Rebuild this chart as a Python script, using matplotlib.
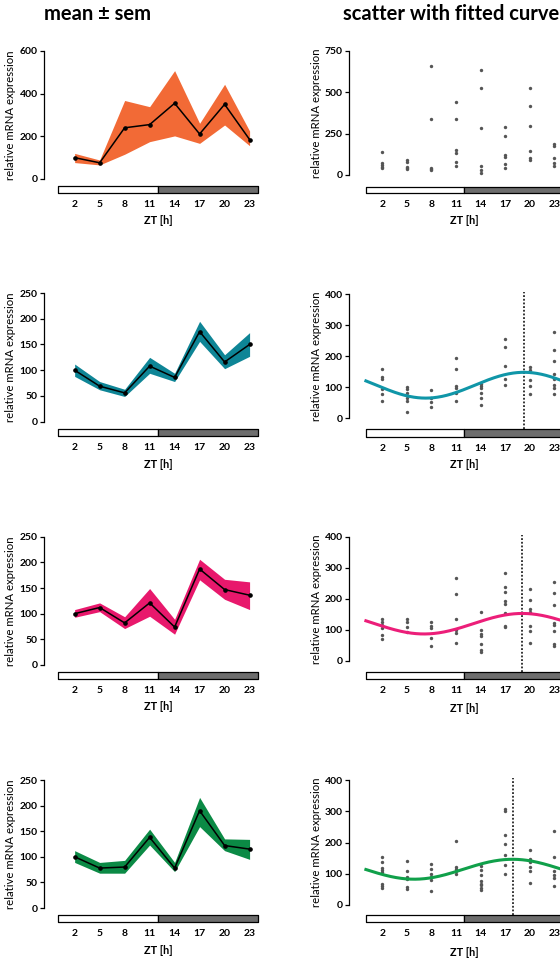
import numpy as np
import matplotlib
matplotlib.use("Agg")
import matplotlib.pyplot as plt

plt.rcParams['font.family'] = ['Lato', 'DejaVu Sans']

zt = [2, 5, 8, 11, 14, 17, 20, 23]
light_dark = [(0, 12), (12, 12)]

# mean +- sem panels (left column)
mean_1 = [100, 76, 240, 255, 355, 211, 350, 185]
upper_1 = [120, 89, 368, 339, 508, 261, 444, 225]
lower_1 = [77, 66, 116, 175, 202, 167, 253, 156]

mean_2 = [100, 69, 56, 108, 86, 175, 116, 150]
upper_2 = [112, 78, 63, 125, 94, 195, 130, 173]
lower_2 = [88, 62, 49, 94, 78, 156, 103, 127]

mean_3 = [100, 112, 82, 121, 74, 187, 147, 136]
upper_3 = [108, 121, 94, 149, 89, 206, 167, 162]
lower_3 = [93, 104, 71, 95, 60, 166, 128, 108]

mean_4 = [100, 78, 80, 138, 78, 190, 122, 115]
upper_4 = [112, 89, 93, 154, 89, 216, 135, 134]
lower_4 = [89, 68, 68, 123, 71, 159, 112, 95]

# individual samples (right column)
points_1 = [[137, 70, 60, 48, 42], [90, 78, 50, 42, 35], [660, 340, 45, 35, 30],
            [439, 336, 151, 131, 76, 52], [632, 523, 284, 56, 28, 14],
            [290, 235, 121, 107, 66, 40], [527, 416, 298, 147, 100, 90],
            [187, 175, 105, 70, 55]]
points_2 = [[159, 134, 127, 94, 77, 56], [102, 94, 80, 64, 57, 21], [91, 64, 54, 35],
            [195, 158, 105, 99, 80, 57], [110, 103, 99, 80, 66, 42],
            [254, 228, 168, 125, 107], [164, 155, 123, 104, 77],
            [277, 220, 186, 142, 125, 107, 97, 78]]
points_3 = [[134, 127, 116, 105, 84, 70], [134, 127, 110, 92], [127, 113, 105, 73, 48],
            [266, 215, 135, 100, 89, 59], [157, 100, 87, 80, 54, 36, 30],
            [284, 237, 223, 194, 185, 153, 113, 108],
            [233, 196, 168, 157, 114, 97, 58],
            [253, 220, 180, 121, 116, 96, 54, 47]]
points_4 = [[153, 137, 118, 113, 105, 68, 60, 55], [139, 107, 89, 82, 57, 49],
            [132, 116, 100, 89, 78, 43], [204, 120, 114, 107, 100],
            [123, 110, 94, 75, 68, 62, 55, 46],
            [309, 300, 225, 196, 161, 129, 100],
            [175, 148, 137, 121, 107, 71], [237, 153, 107, 94, 86, 59]]

# cosinor fit parameters: mesor, amplitude, acrophase [h]
fit_2 = (106.5, 41.5, 19.3)
fit_3 = (120, 33, 19.1)
fit_4 = (114, 32, 17.9)

fill_colors = ['#F26A36', '#0E8596', '#E8186C', '#0B8A45']
curve_colors = [None, '#1096A8', '#EC1E79', '#10A04A']
bar_gray = '#6D6D6D'

W, H = 560, 961
fig = plt.figure(figsize=(W / 100, H / 100), dpi=100)


def make_axes(left_px, x0_px, px_per_h, right_px, top_px, zero_px, bar_top, bar_bot, ymax,
              xlab_off=28, ylab_off=28):
    scale = ymax / (zero_px - top_px)
    ax_top = top_px - 2
    ax = fig.add_axes([left_px / W, 1 - bar_bot / H, (right_px - left_px) / W, (bar_bot - ax_top) / H])
    ax.set_xlim((left_px - x0_px) / px_per_h, (right_px - x0_px) / px_per_h)
    ax.set_ylim(-(bar_bot - zero_px) * scale, ymax + (top_px - ax_top) * scale)
    ybar = -(bar_top - zero_px) * scale
    hbar = -(bar_bot - bar_top) * scale
    ax.broken_barh(light_dark, (ybar, hbar), facecolors=['white', bar_gray],
                   edgecolor='black', linewidth=0.9, clip_on=False, zorder=3)
    for s in ['top', 'right', 'bottom']:
        ax.spines[s].set_visible(False)
    ax.spines['left'].set_bounds(0, ymax)
    ax.spines['left'].set_linewidth(0.9)
    ax.set_xticks(zt)
    ax.set_xticklabels([str(z) for z in zt], fontsize=7.5, fontweight='bold')
    ax.tick_params(axis='x', length=0, pad=5)
    ax.tick_params(axis='y', length=3, width=0.9, pad=1.5)
    ax.set_ylabel('relative mRNA expression', fontsize=8.2)
    wpx = right_px - left_px
    hpx = bar_bot - ax_top
    ax.yaxis.set_label_coords(-ylab_off / wpx, (bar_bot - (top_px + zero_px) / 2) / hpx)
    ax.set_xlabel('ZT [h]', fontsize=7.8, fontweight='bold')
    ax.xaxis.set_label_coords((12 * px_per_h + x0_px - left_px) / wpx, -xlab_off / hpx)
    ax.xaxis.label.set_verticalalignment('center')
    return ax


# layout per row: top, zero, bar top, bar bottom (pixels)
left_rows = [(51, 179, 186, 193), (293, 421.7, 429, 436), (536.7, 665, 672, 679), (780, 908, 914.7, 922)]
right_rows = [(50.7, 175, 187, 193), (294, 418.3, 429, 436.7), (536.7, 661, 672, 679), (780.3, 904.7, 915, 922)]
right_xlab_off = [28, 28, 29, 30]

means = [mean_1, mean_2, mean_3, mean_4]
uppers = [upper_1, upper_2, upper_3, upper_4]
lowers = [lower_1, lower_2, lower_3, lower_4]
points = [points_1, points_2, points_3, points_4]
fits = [None, fit_2, fit_3, fit_4]
ymax_left = [600, 250, 250, 250]
ymax_right = [750, 400, 400, 400]
yticks_left = [[0, 200, 400, 600]] + [[0, 50, 100, 150, 200, 250]] * 3
yticks_right = [[0, 250, 500, 750]] + [[0, 100, 200, 300, 400]] * 3

for i in range(4):
    ax = make_axes(44, 58, 8.33, 258, *left_rows[i], ymax_left[i], ylab_off=28)
    ax.set_yticks(yticks_left[i])
    ax.set_yticklabels([str(v) for v in yticks_left[i]], fontsize=7.5, fontweight='bold')
    ax.fill_between(zt, lowers[i], uppers[i], color=fill_colors[i], linewidth=0)
    ax.plot(zt, means[i], color='black', linewidth=1.1, marker='o', markersize=2.3)

    ax = make_axes(349, 365.9, 8.19, 563, *right_rows[i], ymax_right[i],
                   xlab_off=right_xlab_off[i], ylab_off=27)
    ax.set_yticks(yticks_right[i])
    ax.set_yticklabels([str(v) for v in yticks_right[i]], fontsize=7.5, fontweight='bold')
    for z, vals in zip(zt, points[i]):
        ax.scatter(np.full(len(vals), z), vals, s=6, color='#555555', linewidths=0, zorder=2)
    if fits[i] is not None:
        mesor, amp, acro = fits[i]
        t = np.linspace(0, 24, 300)
        ax.plot(t, mesor + amp * np.cos(2 * np.pi * (t - acro) / 24),
                color=curve_colors[i], linewidth=2.2, zorder=4)
        ylo, yhi = ax.get_ylim()
        bar_top_val = -(right_rows[i][2] - right_rows[i][1]) * ymax_right[i] / (right_rows[i][1] - right_rows[i][0])
        ax.vlines(acro, bar_top_val, yhi, colors='black', linestyles=(0, (1.2, 1.2)), linewidth=1.1, zorder=1)

fig.text(98 / W, 1 - 14 / H, 'mean \u00b1 sem', ha='center', va='center', fontsize=14.5, fontweight='bold')
fig.text(451 / W, 1 - 14 / H, 'scatter with fitted curve', ha='center', va='center', fontsize=14.5, fontweight='bold')

fig.savefig('out.png', dpi=100)
